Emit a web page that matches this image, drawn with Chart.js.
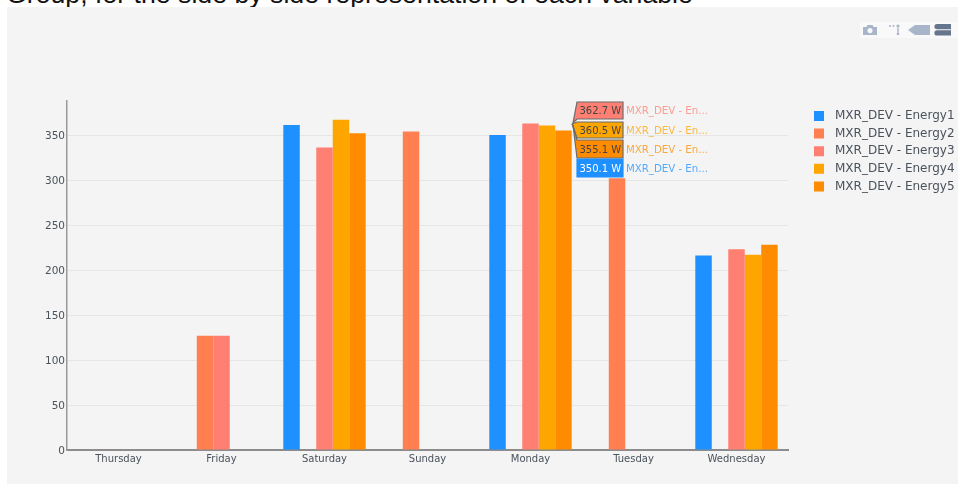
<!DOCTYPE html>
<html>
<head>
<meta charset="utf-8">
<script src="https://cdn.jsdelivr.net/npm/chart.js@4/dist/chart.umd.min.js"></script>
<style>
html,body{margin:0;padding:0;background:#fff;width:958px;height:484px;overflow:hidden}
#title{position:absolute;left:6px;top:-21px;font:26.7px "Liberation Sans",Arial,sans-serif;color:#111;white-space:nowrap}
#c{position:absolute;left:7px;top:7px;display:block}
#mode{position:absolute;left:860px;top:22px;width:98px;height:16px;background:#f9f9f9}
</style>
</head>
<body>
<div id="title">Group, for the side by side representation of each variable</div>
<canvas id="c" width="951" height="477"></canvas>
<svg id="mode" viewBox="0 0 98 16">
  <g fill="#a9b5c9">
    <path d="M3 5h3.5l1-2h5l1 2H17v8H3z M10 6a2.6 2.6 0 1 0 .01 0z" fill-rule="evenodd"/>
    <circle cx="30" cy="4" r="1"/><circle cx="33.5" cy="4" r="1"/><circle cx="38" cy="4" r="1.6"/><rect x="37.3" y="6" width="1.4" height="5"/><rect x="36.8" y="11" width="2.4" height="2"/>
    <path d="M48 8l7-5h15v10H55z"/>
  </g>
  <g fill="#65758c">
    <path d="M77 2h14v5.2H77a2.6 2.6 0 0 1 0-5.2z"/>
    <path d="M77 8.3h14v5.2H77a2.6 2.6 0 0 1 0-5.2z"/>
  </g>
</svg>
<script>
const categories = ['Thursday','Friday','Saturday','Sunday','Monday','Tuesday','Wednesday'];
const energy1 = [null,null,361,null,350.1,null,216];
const energy2 = [null,127,null,354,null,302,null];
const energy3 = [null,127,336,null,362.7,null,223];
const energy4 = [null,null,367,null,360.5,null,217];
const energy5 = [null,null,352,null,355.1,null,228];
const seriesNames = ['MXR_DEV - Energy1','MXR_DEV - Energy2','MXR_DEV - Energy3','MXR_DEV - Energy4','MXR_DEV - Energy5'];
const seriesColors = ['#1e90ff','#ff7f50','#ff8072','#ffa500','#ff8c00'];
const seriesValues = [energy1,energy2,energy3,energy4,energy5];
const yTicks = [0,50,100,150,200,250,300,350];
const hoverIndex = 4;
const hoverOrder = [2,3,4,0];

const FONT = '"DejaVu Sans",Verdana,sans-serif';

const legendPlace = {
  id:'legendPlace',
  afterLayout(chart){
    const l = chart.legend;
    const dx = 801.4 - l.left, dy = 97.4 - l.top;
    l.left += dx; l.right = l.left + 160;
    l.top += dy; l.bottom = l.top + 110;
    l.width = 160; l.height = 110;
    l.adjustHitBoxes && l.adjustHitBoxes();
  }
};

const hoverLabels = {
  id:'hoverLabels',
  afterDraw(chart){
    const ctx = chart.ctx;
    const boxes = [[95,112],[115,131],[133,151],[152,170]];
    const tipX = 565, tipY = 117;
    ctx.save();
    ctx.textBaseline = 'middle';
    hoverOrder.forEach((s,i)=>{
      const [t,b] = boxes[i];
      const color = seriesColors[s];
      const m = (t+b)/2;
      ctx.beginPath();
      ctx.moveTo(570,t);
      ctx.lineTo(616,t);
      ctx.lineTo(616,b);
      ctx.lineTo(570,b);
      if(i<3) ctx.lineTo(tipX+(i===1?0:1),tipY+(i===0?-1:i===1?0:1));
      ctx.closePath();
      ctx.fillStyle = color;
      ctx.fill();
      ctx.strokeStyle = s===0 ? color : '#6b6b6b';
      ctx.lineWidth = 1.2;
      ctx.stroke();
      ctx.textAlign = 'left';
      ctx.font = '10px '+FONT;
      ctx.fillStyle = s===0 ? '#fff' : '#444';
      ctx.fillText(seriesValues[s][hoverIndex].toFixed(1)+' W',572.5,m+1);
      ctx.font = '10.2px '+FONT;
      ctx.globalAlpha = 0.75;
      ctx.fillStyle = color;
      ctx.fillText(seriesNames[s].slice(0,12)+'...',619,m+1);
      ctx.globalAlpha = 1;
    });
    ctx.restore();
  }
};

const c = document.getElementById('c');
new Chart(c,{
  type:'bar',
  data:{
    labels:categories,
    datasets:seriesValues.map((v,i)=>({
      label:seriesNames[i],
      data:v,
      backgroundColor:seriesColors[i],
      borderWidth:0,
      categoryPercentage:0.8,
      barPercentage:1
    }))
  },
  options:{
    responsive:false,
    animation:false,
    events:[],
    layout:{padding:{left:0,right:170,top:94,bottom:0}},
    scales:{
      x:{
        grid:{display:false,drawTicks:false},
        border:{color:'#8c8c8c',width:2},
        ticks:{color:'#4a525c',font:{family:FONT,size:10},padding:3,maxRotation:0},
        afterFit(s){s.height=34;}
      },
      y:{
        min:0,max:387.8,
        afterBuildTicks(s){s.ticks=yTicks.map(v=>({value:v}));},
        grid:{color:'#e6e6e6',lineWidth:1,drawTicks:false},
        border:{color:'#9a9a9a',width:1.5},
        ticks:{color:'#4a525c',font:{family:FONT,size:10.5},padding:2,labelOffset:1},
        afterFit(s){s.width=60;}
      }
    },
    plugins:{
      tooltip:{enabled:false},
      title:{display:false},
      legend:{
        position:'chartArea',
        align:'start',
        labels:{
          color:'#4a525c',
          font:{family:FONT,size:12},
          padding:5.6,
          boxWidth:15,
          boxHeight:10,
          generateLabels(chart){
            return chart.data.datasets.map((d,i)=>{
              const g = chart.ctx.createLinearGradient(807,0,822,0);
              g.addColorStop(0,d.backgroundColor);
              g.addColorStop(0.667,d.backgroundColor);
              g.addColorStop(0.667,'rgba(0,0,0,0)');
              g.addColorStop(1,'rgba(0,0,0,0)');
              return {text:d.label,fillStyle:g,strokeStyle:'rgba(0,0,0,0)',lineWidth:0,hidden:false,datasetIndex:i,fontColor:'#4a525c'};
            });
          }
        }
      }
    }
  },
  plugins:[
    {id:'bg',beforeDraw(ch){ch.ctx.save();ch.ctx.fillStyle='#f4f4f4';ch.ctx.fillRect(0,0,ch.width,ch.height);ch.ctx.restore();}},
    legendPlace,hoverLabels
  ]
});
</script>
</body>
</html>
